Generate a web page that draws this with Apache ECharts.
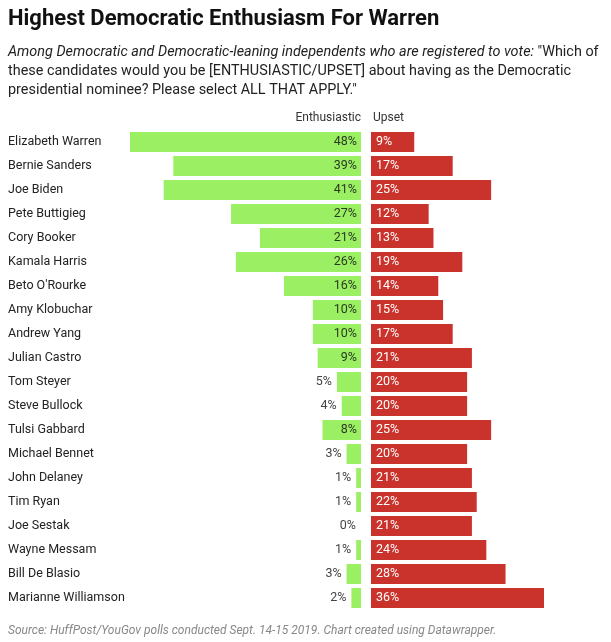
<!DOCTYPE html>
<html><head><meta charset="utf-8">
<script src="https://cdn.jsdelivr.net/npm/echarts@6/dist/echarts.min.js"></script>
<style>html,body{margin:0;padding:0;background:#fff}#c{width:611px;height:642px}</style>
</head><body><div id="c"></div>
<script>
const candidates = ["Elizabeth Warren","Bernie Sanders","Joe Biden","Pete Buttigieg","Cory Booker","Kamala Harris","Beto O'Rourke","Amy Klobuchar","Andrew Yang","Julian Castro","Tom Steyer","Steve Bullock","Tulsi Gabbard","Michael Bennet","John Delaney","Tim Ryan","Joe Sestak","Wayne Messam","Bill De Blasio","Marianne Williamson"];
const enthusiastic = [48,39,41,27,21,26,16,10,10,9,5,4,8,3,1,1,0,1,3,2];
const upset = [9,17,25,12,13,19,14,15,17,21,20,20,25,20,21,22,21,24,28,36];
const seriesNames = ["Enthusiastic","Upset"];

const FONT = 'Roboto, "Liberation Sans", sans-serif';
const GREEN = '#9bef62', RED = '#c9332c';
const chart = echarts.init(document.getElementById('c'), null, {renderer:'canvas'});

const enthData = enthusiastic.map(v => ({
  value: v,
  label: v >= 8
    ? {position: 'insideRight', color: '#2b3a22', distance: 4}
    : {position: 'left', color: '#444', distance: 5}
}));

chart.setOption({
  animation: false,
  title: [
    {text: 'Highest Democratic Enthusiasm For Warren', left: 3, top: 3,
     textStyle: {fontFamily: FONT, fontWeight: 'bold', fontSize: 22, color: '#111'}},
    {text: '{i|Among Democratic and Democratic-leaning independents who are registered to vote:} "Which of\nthese candidates would you be [ENTHUSIASTIC/UPSET] about having as the Democratic\npresidential nominee? Please select ALL THAT APPLY."',
     left: 3, top: 38,
     textStyle: {fontFamily: FONT, fontWeight: 'normal', fontSize: 14.4, color: '#222', lineHeight: 19,
       rich: {i: {fontFamily: FONT, fontStyle: 'italic', fontWeight: 'normal', fontSize: 14.4, color: '#222', lineHeight: 19}}}},
    {text: 'Source: HuffPost/YouGov polls conducted Sept. 14-15 2019. Chart created using Datawrapper.',
     left: 3, top: 620,
     textStyle: {fontFamily: FONT, fontStyle: 'italic', fontWeight: 'normal', fontSize: 12, color: '#888'}}
  ],
  graphic: [
    {type: 'text', right: 611-361, top: 112, style: {text: seriesNames[0], font: '12px ' + FONT, fill: '#333'}},
    {type: 'text', left: 373, top: 112, style: {text: seriesNames[1], font: '12px ' + FONT, fill: '#333'}}
  ],
  grid: [
    {left: 130, top: 130, width: 231, height: 480},
    {left: 371, top: 130, width: 173, height: 480}
  ],
  xAxis: [
    {gridIndex: 0, type: 'value', min: 0, max: 48, inverse: true, show: false},
    {gridIndex: 1, type: 'value', min: 0, max: 36, show: false}
  ],
  yAxis: [
    {gridIndex: 0, type: 'category', data: candidates, inverse: true,
     axisLine: {show: false}, axisTick: {show: false}, splitLine: {show: false},
     axisLabel: {align: 'left', margin: 122, fontFamily: FONT, fontSize: 12.5, color: '#222'}},
    {gridIndex: 1, type: 'category', data: candidates, inverse: true, show: false}
  ],
  series: [
    {name: seriesNames[0], type: 'bar', xAxisIndex: 0, yAxisIndex: 0, data: enthData,
     barWidth: 20, itemStyle: {color: GREEN},
     label: {show: true, formatter: '{c}%', fontFamily: FONT, fontSize: 12.5}},
    {name: seriesNames[1], type: 'bar', xAxisIndex: 1, yAxisIndex: 1, data: upset,
     barWidth: 20, itemStyle: {color: RED},
     label: {show: true, position: 'insideLeft', distance: 5, formatter: '{c}%', color: '#fff',
       fontFamily: FONT, fontSize: 12.5}}
  ]
});
</script></body></html>
